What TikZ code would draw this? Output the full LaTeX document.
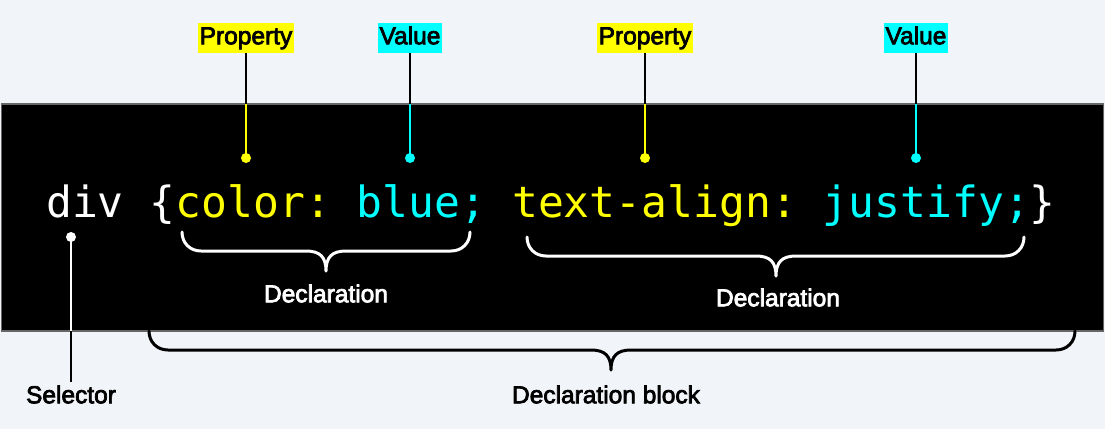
\documentclass[tikz,border=0pt]{standalone}
\usepackage{fontspec}
\setmainfont{Liberation Sans}
\newfontfamily\labfont[FakeBold=3]{Liberation Sans}
\newfontfamily\codefont{DejaVu Sans Mono}
\definecolor{bgc}{HTML}{F1F4F9}
\definecolor{yel}{HTML}{FFFF00}
\definecolor{cya}{HTML}{00FFFF}
\definecolor{edge}{HTML}{666666}
\begin{document}
\begin{tikzpicture}[x=1pt,y=-1pt,
  lab/.style={font=\labfont\fontsize{24.5}{24.5}\selectfont, inner sep=0pt, text height=17.5pt, text depth=5pt},
  tag/.style={lab, inner xsep=1.5pt, inner ysep=4pt, text=black},
  wlab/.style={lab, text=white},
  blab/.style={lab, text=black},
  conn/.style={line width=2.4pt},
  brace/.style={line width=3pt, line cap=round, line join=round},
  dot/.style={circle, fill, inner sep=0pt, minimum size=10pt}]
\fill[bgc] (0,0) rectangle (1105,429);
\useasboundingbox (0,0) rectangle (1105,429);
\draw[edge, line width=1.2pt, fill=black] (1.5,104) rectangle (1103.5,331);

% code
\node[anchor=base west, inner sep=0pt, font=\codefont\fontsize{43}{43}\selectfont] (code) at (46,217)
  {\textcolor{white}{div\ \{}\textcolor{yel}{color:}\ \textcolor{cya}{blue;}\ \textcolor{yel}{text-align:}\ \textcolor{cya}{justify;}\textcolor{white}{\}}};

% top labels
\node[tag, fill=yel] (p1) at (246,38) {Property};
\node[tag, fill=cya] (v1) at (410,38) {Value};
\node[tag, fill=yel] (p2) at (645,38) {Property};
\node[tag, fill=cya] (v2) at (916,38) {Value};

\node[dot, yel] (dp1) at (246,158) {};
\node[dot, cya] (dv1) at (410,158) {};
\node[dot, yel] (dp2) at (645,158) {};
\node[dot, cya] (dv2) at (916,158) {};

\foreach \a/\b/\c in {p1/dp1/yel, v1/dv1/cya, p2/dp2/yel, v2/dv2/cya}{
  \coordinate (m\a) at (\a.south |- 0,104);
  \draw[conn, black] (\a.south) -- (m\a);
  \draw[conn, \c] (m\a) -- (\b.center);
}

% selector
\node[dot, white] (ds) at (71,237) {};
\node[blab] (sel) at (71,397) {Selector};
\coordinate (ms) at (71,331);
\coordinate (es) at (71,382);
\draw[conn, white] (ds.center) -- (ms);
\draw[conn, black] (ms) -- (es);

% braces
\newcommand\mybrace[6]{% xl xr yt yh yp xc
  \draw[brace, #6] (#1,#3) .. controls (#1,#4-8) and (#1+8,#4) .. (#1+19,#4)
    -- (#5-20,#4) .. controls (#5-6,#4) and (#5,#4+6) .. (#5,#4+20)
    .. controls (#5,#4+6) and (#5+6,#4) .. (#5+20,#4)
    -- (#2-19,#4) .. controls (#2-8,#4) and (#2,#4-8) .. (#2,#3);
}
\mybrace{182}{470}{232}{251}{326}{white}
\mybrace{527}{1024}{237}{256}{776}{white}
\mybrace{149}{1075}{331}{350}{611}{black}

\node[wlab] (d1) at (326,296) {Declaration};
\node[wlab] (d2) at (778,300) {Declaration};
\node[blab] (db) at (606,397) {Declaration block};
\end{tikzpicture}
\end{document}
